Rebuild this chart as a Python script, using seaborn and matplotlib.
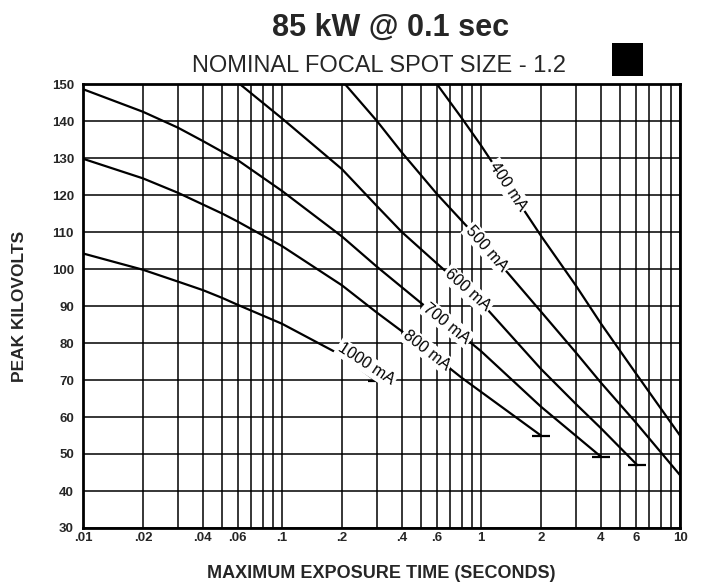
import numpy as np
import pandas as pd
import matplotlib
matplotlib.use("Agg")
import matplotlib.pyplot as plt
from matplotlib.patches import Rectangle
from matplotlib.ticker import FixedLocator, LogLocator, NullFormatter
import seaborn as sns

# ---------------- data ----------------
currents = ["400 mA", "500 mA", "600 mA", "700 mA", "800 mA", "1000 mA"]

t_400 = [0.6, 0.8, 1.0, 2.0, 3.0, 4.0, 6.0, 10.0]
kv_400 = [150, 140.8, 133.4, 109, 95.5, 85.3, 71.8, 55]

t_500 = [0.207, 0.3, 0.4, 0.6, 1.0, 2.0, 3.0, 4.0, 6.0, 10.0]
kv_500 = [150, 140, 131.5, 120.3, 107.4, 88.5, 77.4, 69.3, 58.5, 44.3]

t_600 = [0.0613, 0.1, 0.2, 0.3, 0.4, 0.6, 1.0, 2.0, 3.0, 4.0, 6.1]
kv_600 = [150, 140.7, 127, 117, 110, 101.5, 91, 73, 63.5, 57, 47]

t_700 = [0.01, 0.02, 0.03, 0.04, 0.05, 0.06, 0.1, 0.2, 0.3, 0.5, 0.7, 1.0, 2.0, 4.0]
kv_700 = [148.6, 142.5, 138.2, 134.6, 131.7, 129.4, 121.1, 108.8, 100.6, 90.8, 84.6, 77.8, 62.8, 49.3]

t_800 = [0.01, 0.02, 0.03, 0.05, 0.06, 0.1, 0.2, 0.3, 0.5, 0.8, 1.0, 2.0]
kv_800 = [129.8, 124.5, 120.6, 115, 112.8, 106.2, 95.6, 88.2, 79.3, 70.6, 66.8, 55]

t_1000 = [0.01, 0.02, 0.03, 0.04, 0.05, 0.06, 0.1, 0.2, 0.3]
kv_1000 = [104.2, 99.8, 96.6, 94.3, 92.2, 90.3, 85.2, 76.6, 69.6]

# curves that stop inside the chart (end bar drawn)
ended = ["600 mA", "700 mA", "800 mA", "1000 mA"]

# label anchor times on each curve
label_t = [1.37, 1.07, 0.853, 0.673, 0.533, 0.265]

x_ticks = [0.01, 0.02, 0.04, 0.06, 0.1, 0.2, 0.4, 0.6, 1, 2, 4, 6, 10]
x_tick_labels = [".01", ".02", ".04", ".06", ".1", ".2", ".4", ".6", "1", "2", "4", "6", "10"]
y_ticks = list(range(30, 151, 10))

title = "85 kW @ 0.1 sec"
subtitle = "NOMINAL FOCAL SPOT SIZE - 1.2"
x_label = "MAXIMUM EXPOSURE TIME (SECONDS)"
y_label = "PEAK KILOVOLTS"

# ---------------- build table ----------------
series_t = [t_400, t_500, t_600, t_700, t_800, t_1000]
series_kv = [kv_400, kv_500, kv_600, kv_700, kv_800, kv_1000]
frames = []
for name, ts, kvs in zip(currents, series_t, series_kv):
    frames.append(pd.DataFrame({"time": ts, "kv": kvs, "current": name}))
df = pd.concat(frames, ignore_index=True)

# ---------------- figure ----------------
sns.set_style("white")
plt.rcParams["font.family"] = ["Liberation Sans", "DejaVu Sans"]

W, H = 701, 583
fig = plt.figure(figsize=(W / 100, H / 100), dpi=100)
ax = fig.add_axes([83 / W, 1 - 528 / H, 597 / W, 444 / H])

ax.set_xscale("log")
ax.set_xlim(0.01, 10)
ax.set_ylim(30, 150)

sns.lineplot(data=df, x="time", y="kv", hue="current", hue_order=currents,
             palette=["black"] * len(currents), estimator=None, sort=True,
             legend=False, linewidth=1.6, ax=ax, zorder=3)

# end bars
for name, ts, kvs in zip(currents, series_t, series_kv):
    if name in ended:
        ax.plot([ts[-1]], [kvs[-1]], marker="_", ms=13, mew=1.6, color="black",
                zorder=4, clip_on=False)

# grid
ax.xaxis.set_major_locator(FixedLocator(x_ticks))
ax.xaxis.set_minor_locator(LogLocator(base=10, subs=np.arange(1, 10)))
ax.xaxis.set_minor_formatter(NullFormatter())
ax.set_xticklabels(x_tick_labels)
ax.set_yticks(y_ticks)
ax.set_yticklabels([str(v) for v in y_ticks])
ax.grid(True, which="both", axis="both", color="black", linewidth=1.1)
ax.set_axisbelow(True)
ax.tick_params(axis="both", which="both", length=0)
ax.tick_params(axis="x", pad=3, labelsize=9.5)
ax.tick_params(axis="y", pad=6.5, labelsize=9.5)
for lab in ax.get_xticklabels() + ax.get_yticklabels():
    lab.set_fontweight("bold")
for sp in ax.spines.values():
    sp.set_visible(True)
    sp.set_color("black")
    sp.set_linewidth(2.0)
    sp.set_zorder(5)

ax.set_xlabel(x_label, fontsize=13, fontweight="bold")
ax.xaxis.set_label_coords(0.5, -(565 - 528) / 444)
ax.set_ylabel(y_label, fontsize=12.5, fontweight="bold")
ax.yaxis.set_label_coords(-(83 - 27) / 597, 0.5)

# curve labels
fig.canvas.draw()
for name, ts, kvs, tl in zip(currents, series_t, series_kv, label_t):
    lt = np.log10(ts)
    y0 = np.interp(np.log10(tl), lt, kvs)
    if name == "1000 mA":
        y0 = y0 + 2.6
    ya = np.interp(np.log10(tl * 0.85), lt, kvs)
    yb = np.interp(np.log10(tl / 0.85), lt, kvs)
    pa = ax.transData.transform((tl * 0.85, ya))
    pb = ax.transData.transform((tl / 0.85, yb))
    ang = np.degrees(np.arctan2(pb[1] - pa[1], pb[0] - pa[0]))
    ax.text(tl, y0, name, rotation=ang, rotation_mode="anchor", ha="center",
            va="center", fontsize=11.5, color="black", zorder=6,
            bbox=dict(boxstyle="square,pad=0.12", fc="white", ec="none"))

# titles and black square
fig.text(391 / W, 1 - 36 / H, title, ha="center", va="baseline",
         fontsize=22, fontweight="bold")
fig.text(379 / W, 1 - 72 / H, subtitle, ha="center", va="baseline", fontsize=17)
fig.add_artist(Rectangle((612 / W, 1 - 76 / H), 31 / W, 33 / H,
                         transform=fig.transFigure, color="black", lw=0))

fig.savefig("out.png", dpi=100)
